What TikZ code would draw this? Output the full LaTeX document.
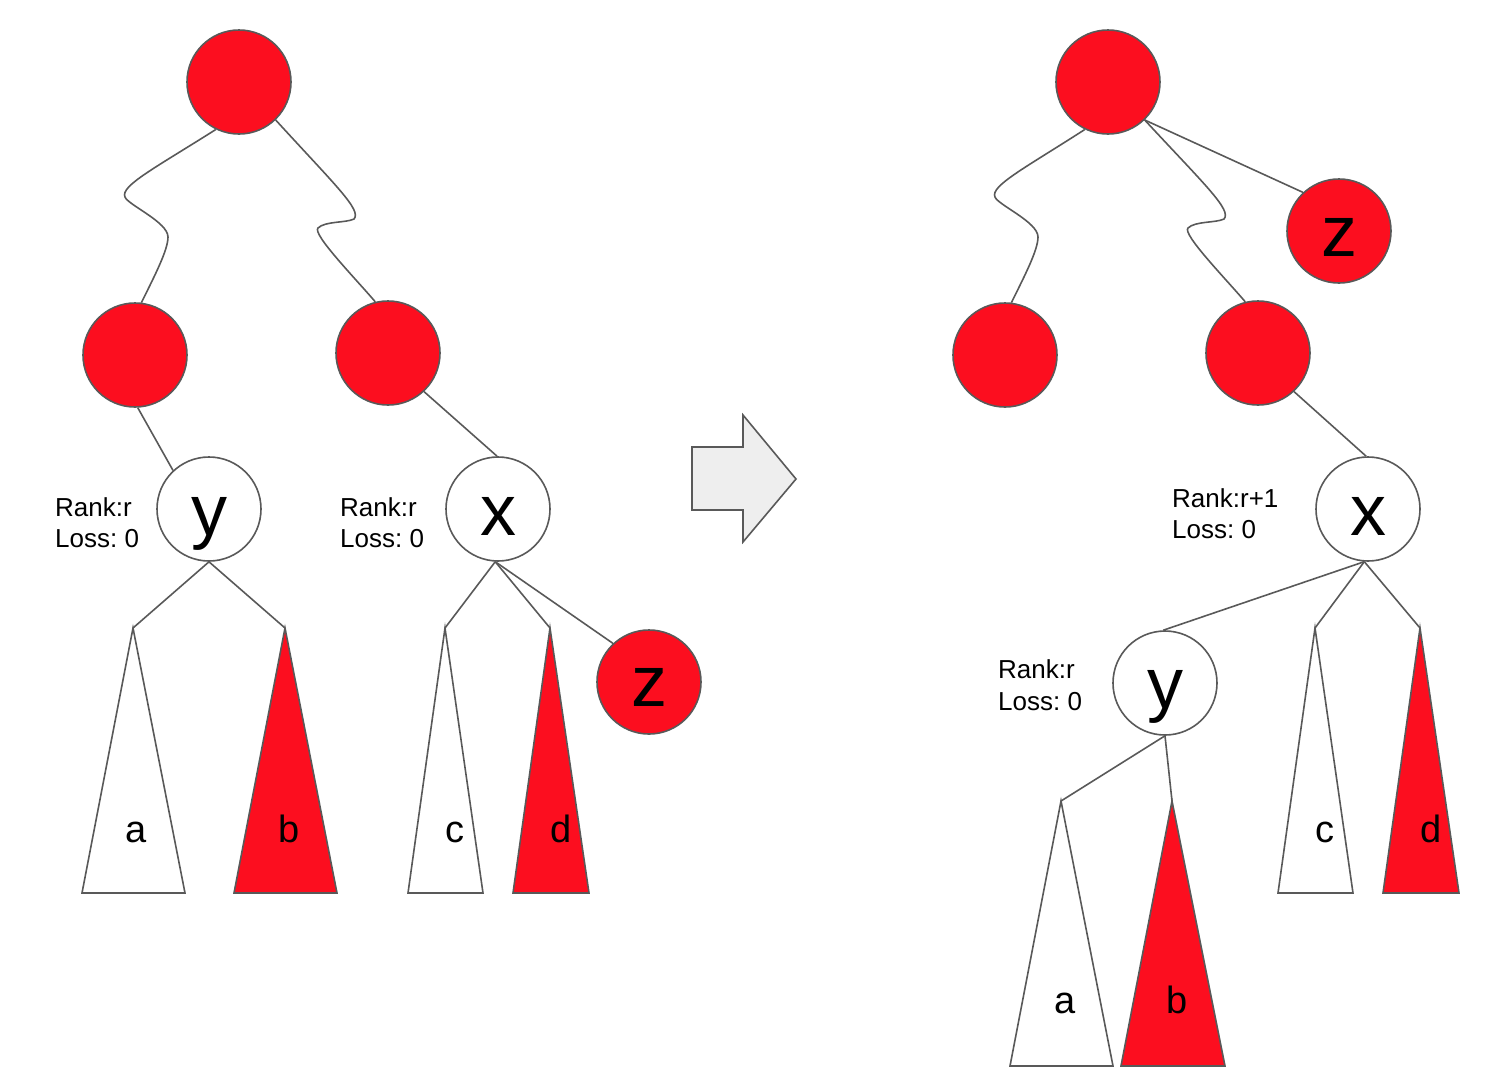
\documentclass[tikz,border=0pt]{standalone}
\usepackage{fontspec}
\setmainfont{Liberation Sans}
\definecolor{nodered}{RGB}{252,14,31}
\definecolor{edgegray}{RGB}{89,89,89}
\definecolor{arrowfill}{RGB}{238,238,238}
\begin{document}
\frenchspacing
\begin{tikzpicture}[x=1pt,y=-1pt,
  circ/.style={circle,draw=edgegray,line width=1.6pt,minimum size=104pt,inner sep=0pt},
  rednode/.style={circ,fill=nodered},
  whitenode/.style={circ,fill=white},
  letter/.style={font=\fontsize{72}{80}\selectfont,anchor=base,inner sep=0pt},
  sublabel/.style={font=\fontsize{38}{44}\selectfont,anchor=base,inner sep=0pt},
  info/.style={font=\fontsize{26}{31}\selectfont\frenchspacing,anchor=base west,inner sep=0pt},
  edge/.style={draw=edgegray,line width=1.6pt},
  redtri/.style={draw=edgegray,fill=nodered,line width=1.6pt,line join=miter},
  whitetri/.style={draw=edgegray,fill=white,line width=1.6pt,line join=miter},
]
\useasboundingbox (0,0) rectangle (1492,1072);

% ---------- left tree ----------
\node[rednode] (rootL) at (239,82) {};
\node[rednode] (lcL) at (135,355) {};
\node[rednode] (rcL) at (388,353) {};
\node[whitenode] (yL) at (209,509) {};
\node[whitenode] (xL) at (498,509) {};
\node[rednode] (zL) at (649,682) {};
\node[letter] (tyL) at (209,535) {y};
\node[letter] (txL) at (498,535) {x};
\node[letter] (tzL) at (649,706) {z};

\coordinate (aL) at (133,628);
\coordinate (bL) at (285,628);
\coordinate (cL) at (445,628);
\coordinate (dL) at (550,628);

\draw[whitetri] (aL) -- (82,893) -- (185,893) -- cycle;
\draw[redtri] (bL) -- (234,893) -- (337,893) -- cycle;
\draw[whitetri] (cL) -- (408,893) -- (483,893) -- cycle;
\draw[redtri] (dL) -- (513,893) -- (589,893) -- cycle;
\node[sublabel] (laL) at (136,842) {a};
\node[sublabel] (lbL) at (289,842) {b};
\node[sublabel] (lcLab) at (455,842) {c};
\node[sublabel] (ldL) at (561,842) {d};

\draw[edge] (rootL.-116) .. controls (155,168) and (120,186) .. (125,197)
  .. controls (128,205) and (168,222) .. (168,237)
  .. controls (168,250) and (155,275) .. (lcL.83);
\draw[edge] (rootL.-46) .. controls (335,185) and (362,210) .. (354,219)
  .. controls (346,223) and (325,221) .. (318,228)
  .. controls (312,234) and (355,278) .. (rcL.104);
\draw[edge] (lcL.-87) -- (yL.133.5);
\draw[edge] (rcL.-47) -- (xL.91);
\draw[edge] (yL.-90) -- (aL);
\draw[edge] (yL.-90) -- (bL);
\draw[edge] (xL.-93) -- (cL);
\draw[edge] (xL.-93) -- (dL);
\draw[edge] (xL.-93) -- (zL.133.5);

\node[info] (rkyL) at (55,516) {Rank:r};
\node[info] (lsyL) at (55,547) {Loss: 0};
\node[info] (rkxL) at (340,516) {Rank:r};
\node[info] (lsxL) at (340,547) {Loss: 0};

% ---------- arrow ----------
\draw[draw=edgegray,fill=arrowfill,line width=1.6pt,line join=miter]
  (692,447) -- (743,447) -- (743,415) -- (796,479) -- (743,542) -- (743,510) -- (692,510) -- cycle;

% ---------- right tree ----------
\node[rednode] (rootR) at (1108,82) {};
\node[rednode] (zR) at (1339,231) {};
\node[rednode] (lcR) at (1005,355) {};
\node[rednode] (rcR) at (1258,353) {};
\node[whitenode] (xR) at (1368,509) {};
\node[whitenode] (yR) at (1165,683) {};
\node[letter] (tzR) at (1339,256) {z};
\node[letter] (txR) at (1368,535) {x};
\node[letter] (tyR) at (1165,708) {y};

\coordinate (cR) at (1315,628);
\coordinate (dR) at (1420,628);
\coordinate (aR) at (1061,801);
\coordinate (bR) at (1172,801);

\draw[whitetri] (cR) -- (1278,893) -- (1353,893) -- cycle;
\draw[redtri] (dR) -- (1383,893) -- (1459,893) -- cycle;
\draw[whitetri] (aR) -- (1010,1066) -- (1113,1066) -- cycle;
\draw[redtri] (bR) -- (1121,1066) -- (1225,1066) -- cycle;
\node[sublabel] (lcRab) at (1325,842) {c};
\node[sublabel] (ldR) at (1431,842) {d};
\node[sublabel] (laR) at (1065,1013) {a};
\node[sublabel] (lbR) at (1177,1013) {b};

\draw[edge] (rootR.-116) .. controls (1025,168) and (990,186) .. (995,197)
  .. controls (998,205) and (1038,222) .. (1038,237)
  .. controls (1038,250) and (1025,275) .. (lcR.83);
\draw[edge] (rootR.-46) .. controls (1205,185) and (1232,210) .. (1224,219)
  .. controls (1216,223) and (1195,221) .. (1188,228)
  .. controls (1182,234) and (1225,278) .. (rcR.104);
\draw[edge] (rootR.-46) -- (zR.133.5);
\draw[edge] (rcR.-47) -- (xR.92);
\draw[edge] (xR.-94) -- (yR.92);
\draw[edge] (xR.-94) -- (cR);
\draw[edge] (xR.-94) -- (dR);
\draw[edge] (yR.-90) -- (aR);
\draw[edge] (yR.-90) -- (bR);

\node[info] (rkxR) at (1172,507) {Rank:r+1};
\node[info] (lsxR) at (1172,538) {Loss: 0};
\node[info] (rkyR) at (998,678) {Rank:r};
\node[info] (lsyR) at (998,710) {Loss: 0};
\end{tikzpicture}
\end{document}
